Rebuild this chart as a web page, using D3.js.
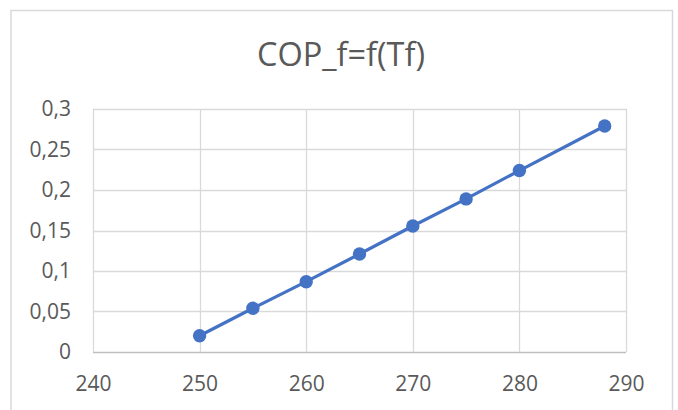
<!DOCTYPE html>
<html>
<head>
<meta charset="utf-8">
<script src="https://cdn.jsdelivr.net/npm/d3@7"></script>
<style>
  body { margin: 0; background: #fff; }
  text { font-family: "Open Sans", "Noto Sans", sans-serif; fill: #595959; }
</style>
</head>
<body>
<div id="chart"></div>
<script>
// data
const tfValues = [250, 255, 260, 265, 270, 275, 280, 288];
const copValues = [0.0201, 0.054, 0.0868, 0.121, 0.1556, 0.189, 0.224, 0.279];
const xTicks = [240, 250, 260, 270, 280, 290];
const yTicks = [0, 0.05, 0.1, 0.15, 0.2, 0.25, 0.3];
const title = "COP_f=f(Tf)";

const W = 678, H = 410;
const margin = {top: 109, right: 52, bottom: 58, left: 93},
  width = W - margin.left - margin.right,
  height = H - margin.top - margin.bottom;

const svg = d3.select("#chart")
  .append("svg")
  .attr("width", W)
  .attr("height", H);

// chart border
svg.append("rect")
  .attr("x", 11).attr("y", 10.5)
  .attr("width", 661.5).attr("height", 420)
  .attr("fill", "none")
  .attr("stroke", "#d9d9d9")
  .attr("stroke-width", 1.5);

svg.append("text")
  .attr("x", 341).attr("y", 66)
  .attr("text-anchor", "middle")
  .attr("font-size", 32.5)
  .text(title);

const g = svg.append("g")
  .attr("transform", `translate(${margin.left},${margin.top})`);

const x = d3.scaleLinear().domain([240, 290]).range([0, width]);
const y = d3.scaleLinear().domain([0, 0.3]).range([height, 0]);

// grid
g.append("g")
  .selectAll("line.h")
  .data(yTicks)
  .join("line")
  .attr("x1", 0).attr("x2", width)
  .attr("y1", d => Math.round(y(d)) + 0.5).attr("y2", d => Math.round(y(d)) + 0.5)
  .attr("stroke", d => d === 0 ? "#bfbfbf" : "#d9d9d9")
  .attr("stroke-width", 1.3);

g.append("g")
  .selectAll("line.v")
  .data(xTicks)
  .join("line")
  .attr("y1", 0).attr("y2", height)
  .attr("x1", d => Math.round(x(d)) + 0.5).attr("x2", d => Math.round(x(d)) + 0.5)
  .attr("stroke", "#d9d9d9")
  .attr("stroke-width", 1.3);

// axes (labels only)
const fmt = d => String(d).replace(".", ",");
const yAxis = g.append("g")
  .attr("transform", "translate(-19,0)")
  .call(d3.axisLeft(y).tickValues(yTicks).tickFormat(fmt).tickSize(0));
const xAxis = g.append("g")
  .attr("transform", `translate(0,${height + 21})`)
  .call(d3.axisBottom(x).tickValues(xTicks).tickSize(0));
[yAxis, xAxis].forEach(a => {
  a.attr("font-size", null).attr("font-family", null);
  a.select(".domain").remove();
  a.selectAll("text").style("font-size", "21px").attr("fill", "#595959")
    .style("font-family", "'Open Sans', sans-serif");
});

const data = tfValues.map((t, i) => ({t: t, v: copValues[i]}));

g.append("path")
  .datum(data)
  .attr("fill", "none")
  .attr("stroke", "#4472c4")
  .attr("stroke-width", 3.2)
  .attr("d", d3.line().x(d => x(d.t)).y(d => y(d.v)));

g.selectAll("circle")
  .data(data)
  .join("circle")
  .attr("cx", d => x(d.t))
  .attr("cy", d => y(d.v))
  .attr("r", 6.7)
  .attr("fill", "#4472c4");
</script>
</body>
</html>
